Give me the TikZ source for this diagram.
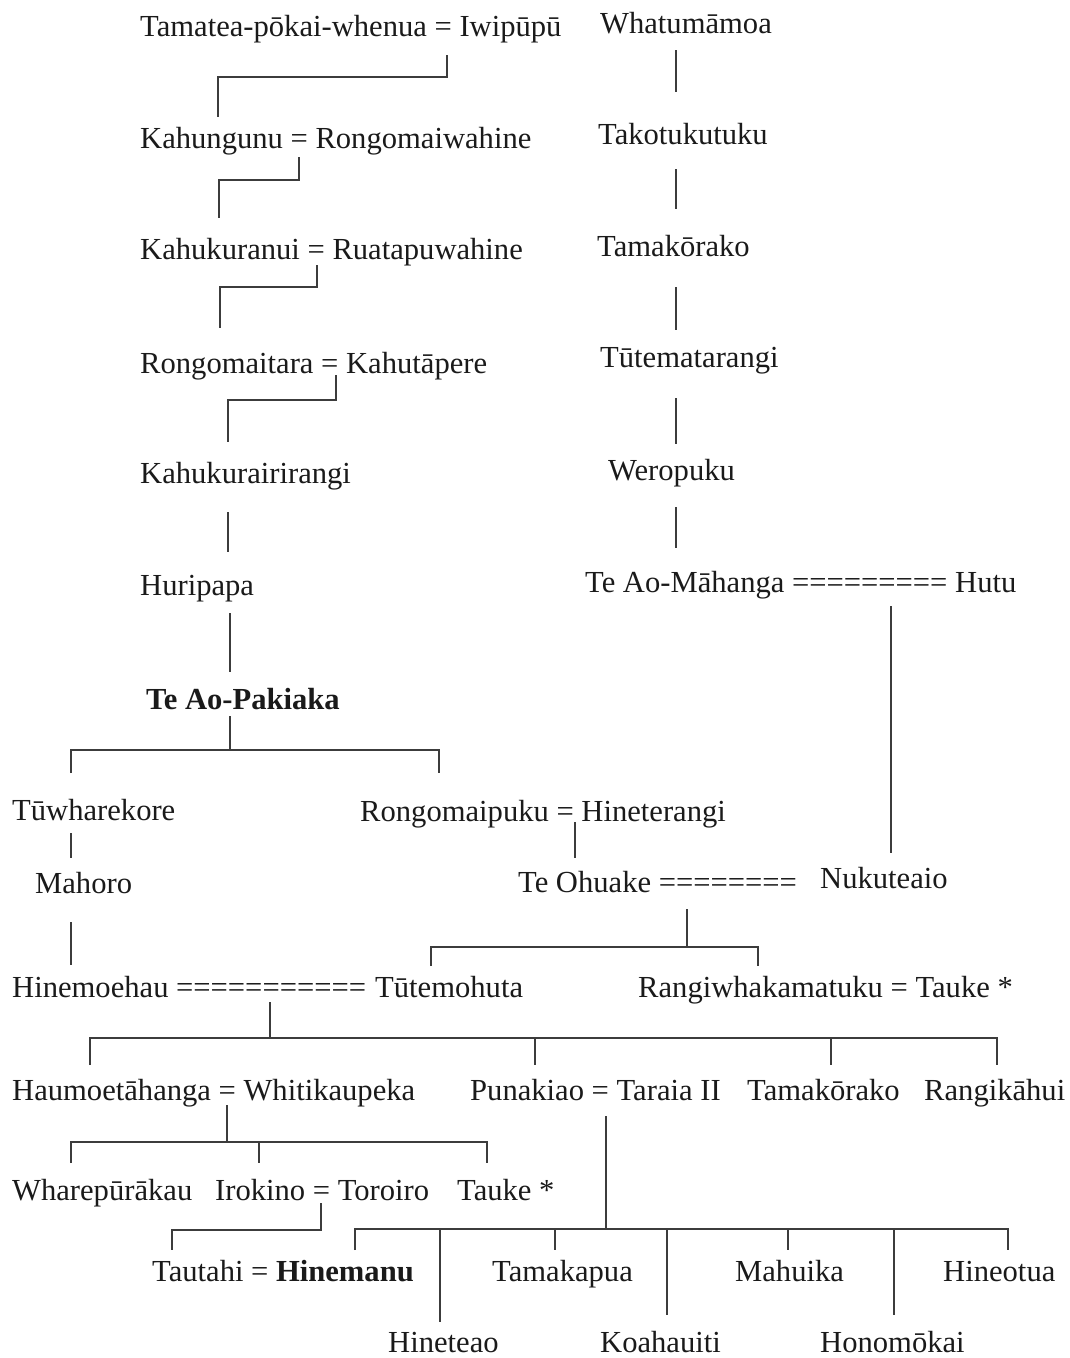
\documentclass[tikz,border=0pt]{standalone}
\usepackage{fontspec}
\setmainfont{Liberation Serif}
\usepackage{tikz}
\definecolor{inkgrey}{HTML}{1A1A1A}
\definecolor{linegrey}{HTML}{3C3C3C}

\begin{document}
\begin{tikzpicture}[x=1pt,y=-1pt,
    person/.style={anchor=base west,inner sep=0pt,text=inkgrey,font=\fontsize{30.6}{36}\selectfont},
    chief/.style={person,font=\fontsize{30.6}{36}\selectfont\bfseries},
    kin/.style={draw=linegrey,line width=1.4pt}]
  \useasboundingbox (0,0) rectangle (1069,1358);

  % left line, Tamatea down to Te Ao-Pakiaka
  \node[person] (tamatea) at (140,36) {Tamatea-pōkai-whenua = Iwipūpū};
  \node[person] (kahungunu) at (140,148) {Kahungunu = Rongomaiwahine};
  \node[person] (kahukuranui) at (140,259) {Kahukuranui = Ruatapuwahine};
  \node[person] (rongomaitara) at (140,373) {Rongomaitara = Kahutāpere};
  \node[person] (kahukurairirangi) at (140,483) {Kahukurairirangi};
  \node[person] (huripapa) at (140,595) {Huripapa};
  \node[chief] (pakiaka) at (146,709) {Te Ao-Pakiaka};

  % right line, Whatumāmoa down to Te Ao-Māhanga
  \node[person] (whatumamoa) at (600,33) {Whatumāmoa};
  \node[person] (takotukutuku) at (598,144) {Takotukutuku};
  \node[person] (tamakorako) at (597,256) {Tamakōrako};
  \node[person] (tutematarangi) at (600,367) {Tūtematarangi};
  \node[person] (weropuku) at (608,480) {Weropuku};
  \node[person] (mahanga) at (585,592) {Te Ao-Māhanga =========};
  \node[person] (hutu) at (955,592) {Hutu};

  % children of Te Ao-Pakiaka
  \node[person] (tuwharekore) at (12,820) {Tūwharekore};
  \node[person] (rongomaipuku) at (360,821) {Rongomaipuku = Hineterangi};
  \node[person] (mahoro) at (35,893) {Mahoro};
  \node[person] (ohuake) at (518,892) {Te Ohuake ========};
  \node[person] (nukuteaio) at (820,888) {Nukuteaio};
  \node[person] (hinemoehau) at (12,997) {Hinemoehau ===========};
  \node[person] (tutemohuta) at (375,997) {Tūtemohuta};
  \node[person] (rangiwhakamatuku) at (638,997) {Rangiwhakamatuku = Tauke *};

  % later generations
  \node[person] (haumoetahanga) at (12,1100) {Haumoetāhanga = Whitikaupeka};
  \node[person] (punakiao) at (470,1100) {Punakiao = Taraia II};
  \node[person] (tamakorakob) at (747,1100) {Tamakōrako};
  \node[person] (rangikahui) at (924,1100) {Rangikāhui};
  \node[person] (wharepurakau) at (12,1200) {Wharepūrākau};
  \node[person] (irokino) at (215,1200) {Irokino = Toroiro};
  \node[person] (tauke) at (457,1200) {Tauke *};
  \node[person] (tautahi) at (152,1281) {Tautahi = \textbf{Hinemanu}};
  \node[person] (tamakapua) at (492,1281) {Tamakapua};
  \node[person] (mahuika) at (735,1281) {Mahuika};
  \node[person] (hineotua) at (943,1281) {Hineotua};
  \node[person] (hineteao) at (388,1352) {Hineteao};
  \node[person] (koahauiti) at (600,1352) {Koahauiti};
  \node[person] (honomokai) at (820,1352) {Honomōkai};

  % descent lines, left
  \coordinate (iwipupu) at (447,55);     \coordinate (kahungunutop) at (218,117);
  \coordinate (rongowahine) at (299,157); \coordinate (kahukuranuitop) at (219,218);
  \coordinate (ruatapu) at (317,265);     \coordinate (rongomaitaratop) at (220,328);
  \coordinate (kahutapere) at (336,375);  \coordinate (kahukuraitop) at (228,442);
  \draw[kin] (iwipupu) -- ++(0,22) -| (kahungunutop);
  \draw[kin] (rongowahine) -- ++(0,23) -| (kahukuranuitop);
  \draw[kin] (ruatapu) -- ++(0,22) -| (rongomaitaratop);
  \draw[kin] (kahutapere) -- ++(0,25) -| (kahukuraitop);
  \coordinate (kahukuraibot) at (228,512); \coordinate (huripapatop) at (228,552);
  \coordinate (huripapabot) at (230,613);  \coordinate (pakiakatop) at (230,672);
  \draw[kin] (kahukuraibot) -- (huripapatop);
  \draw[kin] (huripapabot) -- (pakiakatop);

  % descent lines, right
  \foreach \a/\b in {50/92,169/209,287/330,398/444,507/548}
    \draw[kin] (676,\a) -- (676,\b);

  % Te Ao-Pakiaka to his children
  \coordinate (pakiakabot) at (230,716); \coordinate (pakiakabar) at (230,750);
  \coordinate (tuwharetop) at (71,773);  \coordinate (rongopukutop) at (439,773);
  \draw[kin] (pakiakabot) -- (pakiakabar);
  \draw[kin] (tuwharetop) |- (pakiakabar) -| (rongopukutop);
  \coordinate (tuwharebot) at (71,833); \coordinate (mahorotop) at (71,858);
  \coordinate (mahorobot) at (71,922);  \coordinate (hinemoehautop) at (71,965);
  \draw[kin] (tuwharebot) -- (mahorotop);
  \draw[kin] (mahorobot) -- (hinemoehautop);
  \coordinate (hineterangi) at (575,822); \coordinate (ohuaketop) at (575,858);
  \draw[kin] (hineterangi) -- (ohuaketop);
  \coordinate (hutubot) at (891,606); \coordinate (nukuteaiotop) at (891,853);
  \draw[kin] (hutubot) -- (nukuteaiotop);

  % Te Ohuake = Nukuteaio
  \coordinate (ohuakebot) at (687,909); \coordinate (ohuakebar) at (687,947);
  \coordinate (tutemohutatop) at (431,966); \coordinate (rangiwhakatop) at (758,966);
  \draw[kin] (ohuakebot) -- (ohuakebar);
  \draw[kin] (tutemohutatop) |- (ohuakebar) -| (rangiwhakatop);

  % Hinemoehau = Tūtemohuta
  \coordinate (tutemohutabot) at (270,1002); \coordinate (tutemohutabar) at (270,1038);
  \draw[kin] (tutemohutabot) -- (tutemohutabar);
  \draw[kin] (90,1065) |- (997,1038) -- (997,1065);
  \foreach \x in {535,831}
    \draw[kin] (\x,1038) -- (\x,1065);

  % Haumoetāhanga = Whitikaupeka
  \coordinate (whitikaupeka) at (227,1105); \coordinate (whitibar) at (227,1142);
  \draw[kin] (whitikaupeka) -- (whitibar);
  \draw[kin] (71,1163) |- (487,1142) -- (487,1163);
  \draw[kin] (259,1142) -- (259,1163);

  % Irokino = Toroiro
  \coordinate (toroiro) at (321,1203); \coordinate (tautahitop) at (172,1250);
  \draw[kin] (toroiro) -- ++(0,27) -| (tautahitop);

  % Punakiao = Taraia II
  \coordinate (taraia) at (606,1116); \coordinate (taraiabar) at (606,1229);
  \draw[kin] (taraia) -- (taraiabar);
  \draw[kin] (355,1250) |- (1008,1229) -- (1008,1250);
  \foreach \x/\y in {440/1322,555/1250,667/1315,788/1250,894/1315}
    \draw[kin] (\x,1229) -- (\x,\y);
\end{tikzpicture}
\end{document}
